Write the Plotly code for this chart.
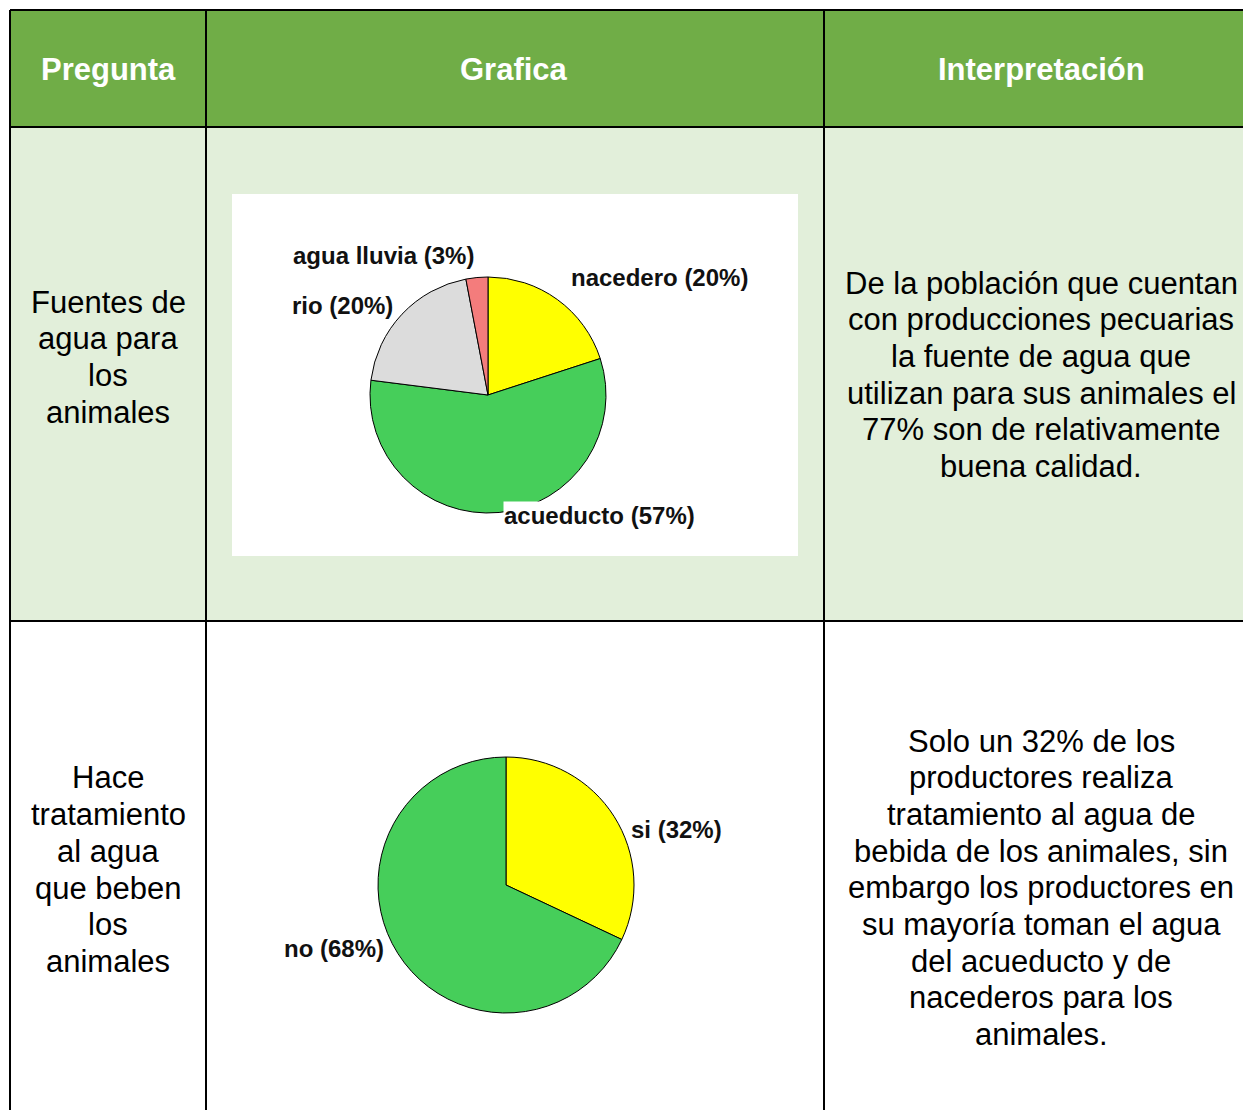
import numpy as np
import plotly.graph_objects as go

W, H = 1243, 1110

# ---- data ----
headers = ["Pregunta", "Grafica", "Interpretación"]

preguntas = [
    ["Fuentes de", "agua para", "los", "animales"],
    ["Hace", "tratamiento", "al agua", "que beben", "los", "animales"],
]

interpretaciones = [
    ["De la población que cuentan", "con producciones pecuarias", "la fuente de agua que",
     "utilizan para sus animales el", "77% son de relativamente", "buena calidad."],
    ["Solo un 32% de los", "productores realiza", "tratamiento al agua de",
     "bebida de los animales, sin", "embargo los productores en", "su mayoría toman el agua",
     "del acueducto y de", "nacederos para los", "animales."],
]

fuentes_labels = ["nacedero", "acueducto", "rio", "agua lluvia"]
fuentes_pct = [20, 57, 20, 3]

trat_labels = ["si", "no"]
trat_pct = [32, 68]

# ---- style ----
fuentes_colors = ["#FFFF00", "#46CE5A", "#DCDCDC", "#F47C7C"]
trat_colors = ["#FFFF00", "#46CE5A"]
HEADER_GREEN = "#70AD47"
ROW_GREEN = "#E2EFDA"
FONT = "Liberation Sans, Arial, sans-serif"

# table geometry in screen pixels
x_left, x_c1, x_c2, x_right = 10, 206, 824, 1270
y_top, y_h, y_r1, y_bot = 10, 127, 621, 1130
LINE_GAP = 36.7


def px(x):
    return x / W


def py(y):
    return 1 - y / H


fig = go.Figure()
shapes = []
annotations = []

# fills
shapes.append(dict(type="rect", xref="paper", yref="paper", layer="below",
                   x0=px(x_left), x1=px(x_right), y0=py(y_top), y1=py(y_h),
                   fillcolor=HEADER_GREEN, line_width=0))
shapes.append(dict(type="rect", xref="paper", yref="paper", layer="below",
                   x0=px(x_left), x1=px(x_right), y0=py(y_h), y1=py(y_r1),
                   fillcolor=ROW_GREEN, line_width=0))
# white box behind first pie
shapes.append(dict(type="rect", xref="paper", yref="paper", layer="below",
                   x0=px(232), x1=px(798), y0=py(194), y1=py(556),
                   fillcolor="white", line_width=0))

# grid lines
for x in [x_left, x_c1, x_c2]:
    shapes.append(dict(type="line", xref="paper", yref="paper",
                       x0=px(x), x1=px(x), y0=py(y_top), y1=py(y_bot),
                       line=dict(color="black", width=2)))
for y in [y_top, y_h, y_r1]:
    shapes.append(dict(type="line", xref="paper", yref="paper",
                       x0=px(x_left), x1=px(x_right), y0=py(y), y1=py(y),
                       line=dict(color="black", width=2)))

# header text
for name, cx in zip(headers, [108, 514, 1041]):
    annotations.append(dict(x=px(cx), y=py(69), xref="paper", yref="paper",
                            text=name, showarrow=False, xanchor="center", yanchor="middle",
                            font=dict(family=FONT, size=31, color="white", weight="bold")))


def add_lines(cx, y0, lines):
    for i, ln in enumerate(lines):
        annotations.append(dict(x=px(cx), y=py(y0 + i * LINE_GAP), xref="paper", yref="paper",
                                text=ln, showarrow=False, xanchor="center", yanchor="middle",
                                font=dict(family=FONT, size=31, color="black")))


add_lines(108, 302, preguntas[0])
add_lines(108, 778, preguntas[1])
add_lines(1041, 283, interpretaciones[0])
add_lines(1041, 741, interpretaciones[1])


def add_pie(cx, cy, r, labels, values, colors, nudges):
    fig.add_trace(go.Pie(
        labels=labels, values=values, sort=False, direction="clockwise", rotation=0,
        marker=dict(colors=colors, line=dict(color="black", width=1)),
        textinfo="none", hoverinfo="label+percent", showlegend=False,
        domain=dict(x=[px(cx - r), px(cx + r)], y=[py(cy + r), py(cy - r)]),
    ))
    total = float(sum(values))
    start = 0.0
    for lab, v, (dx, dy) in zip(labels, values, nudges):
        mid = (start + v / 2) / total * 2 * np.pi
        start += v
        lx = cx + 1.1 * r * np.sin(mid) + dx
        ly = cy - 1.1 * r * np.cos(mid) + dy
        annotations.append(dict(
            x=px(lx), y=py(ly), xref="paper", yref="paper",
            text=f"{lab} ({v}%)", showarrow=False, bgcolor="white", borderpad=0,
            xanchor="left" if np.sin(mid) > 0 else "right", yanchor="middle",
            font=dict(family=FONT, size=24, color="#111111", weight="bold")))


add_pie(488, 395, 118, fuentes_labels, fuentes_pct, fuentes_colors,
        [(6, -12), (3, -9), (1, -1), (-1, -10)])
add_pie(506, 885, 128, trat_labels, trat_pct, trat_colors,
        [(5, 20), (-2, -12)])

fig.update_layout(
    width=W, height=H,
    margin=dict(l=0, r=0, t=0, b=0),
    paper_bgcolor="white", plot_bgcolor="white",
    shapes=shapes, annotations=annotations,
)

# drop the browser's default body margin so the figure fills the window exactly
fig.write_html("out.html", config={"displayModeBar": False},
               post_script="document.body.style.margin='0';")
